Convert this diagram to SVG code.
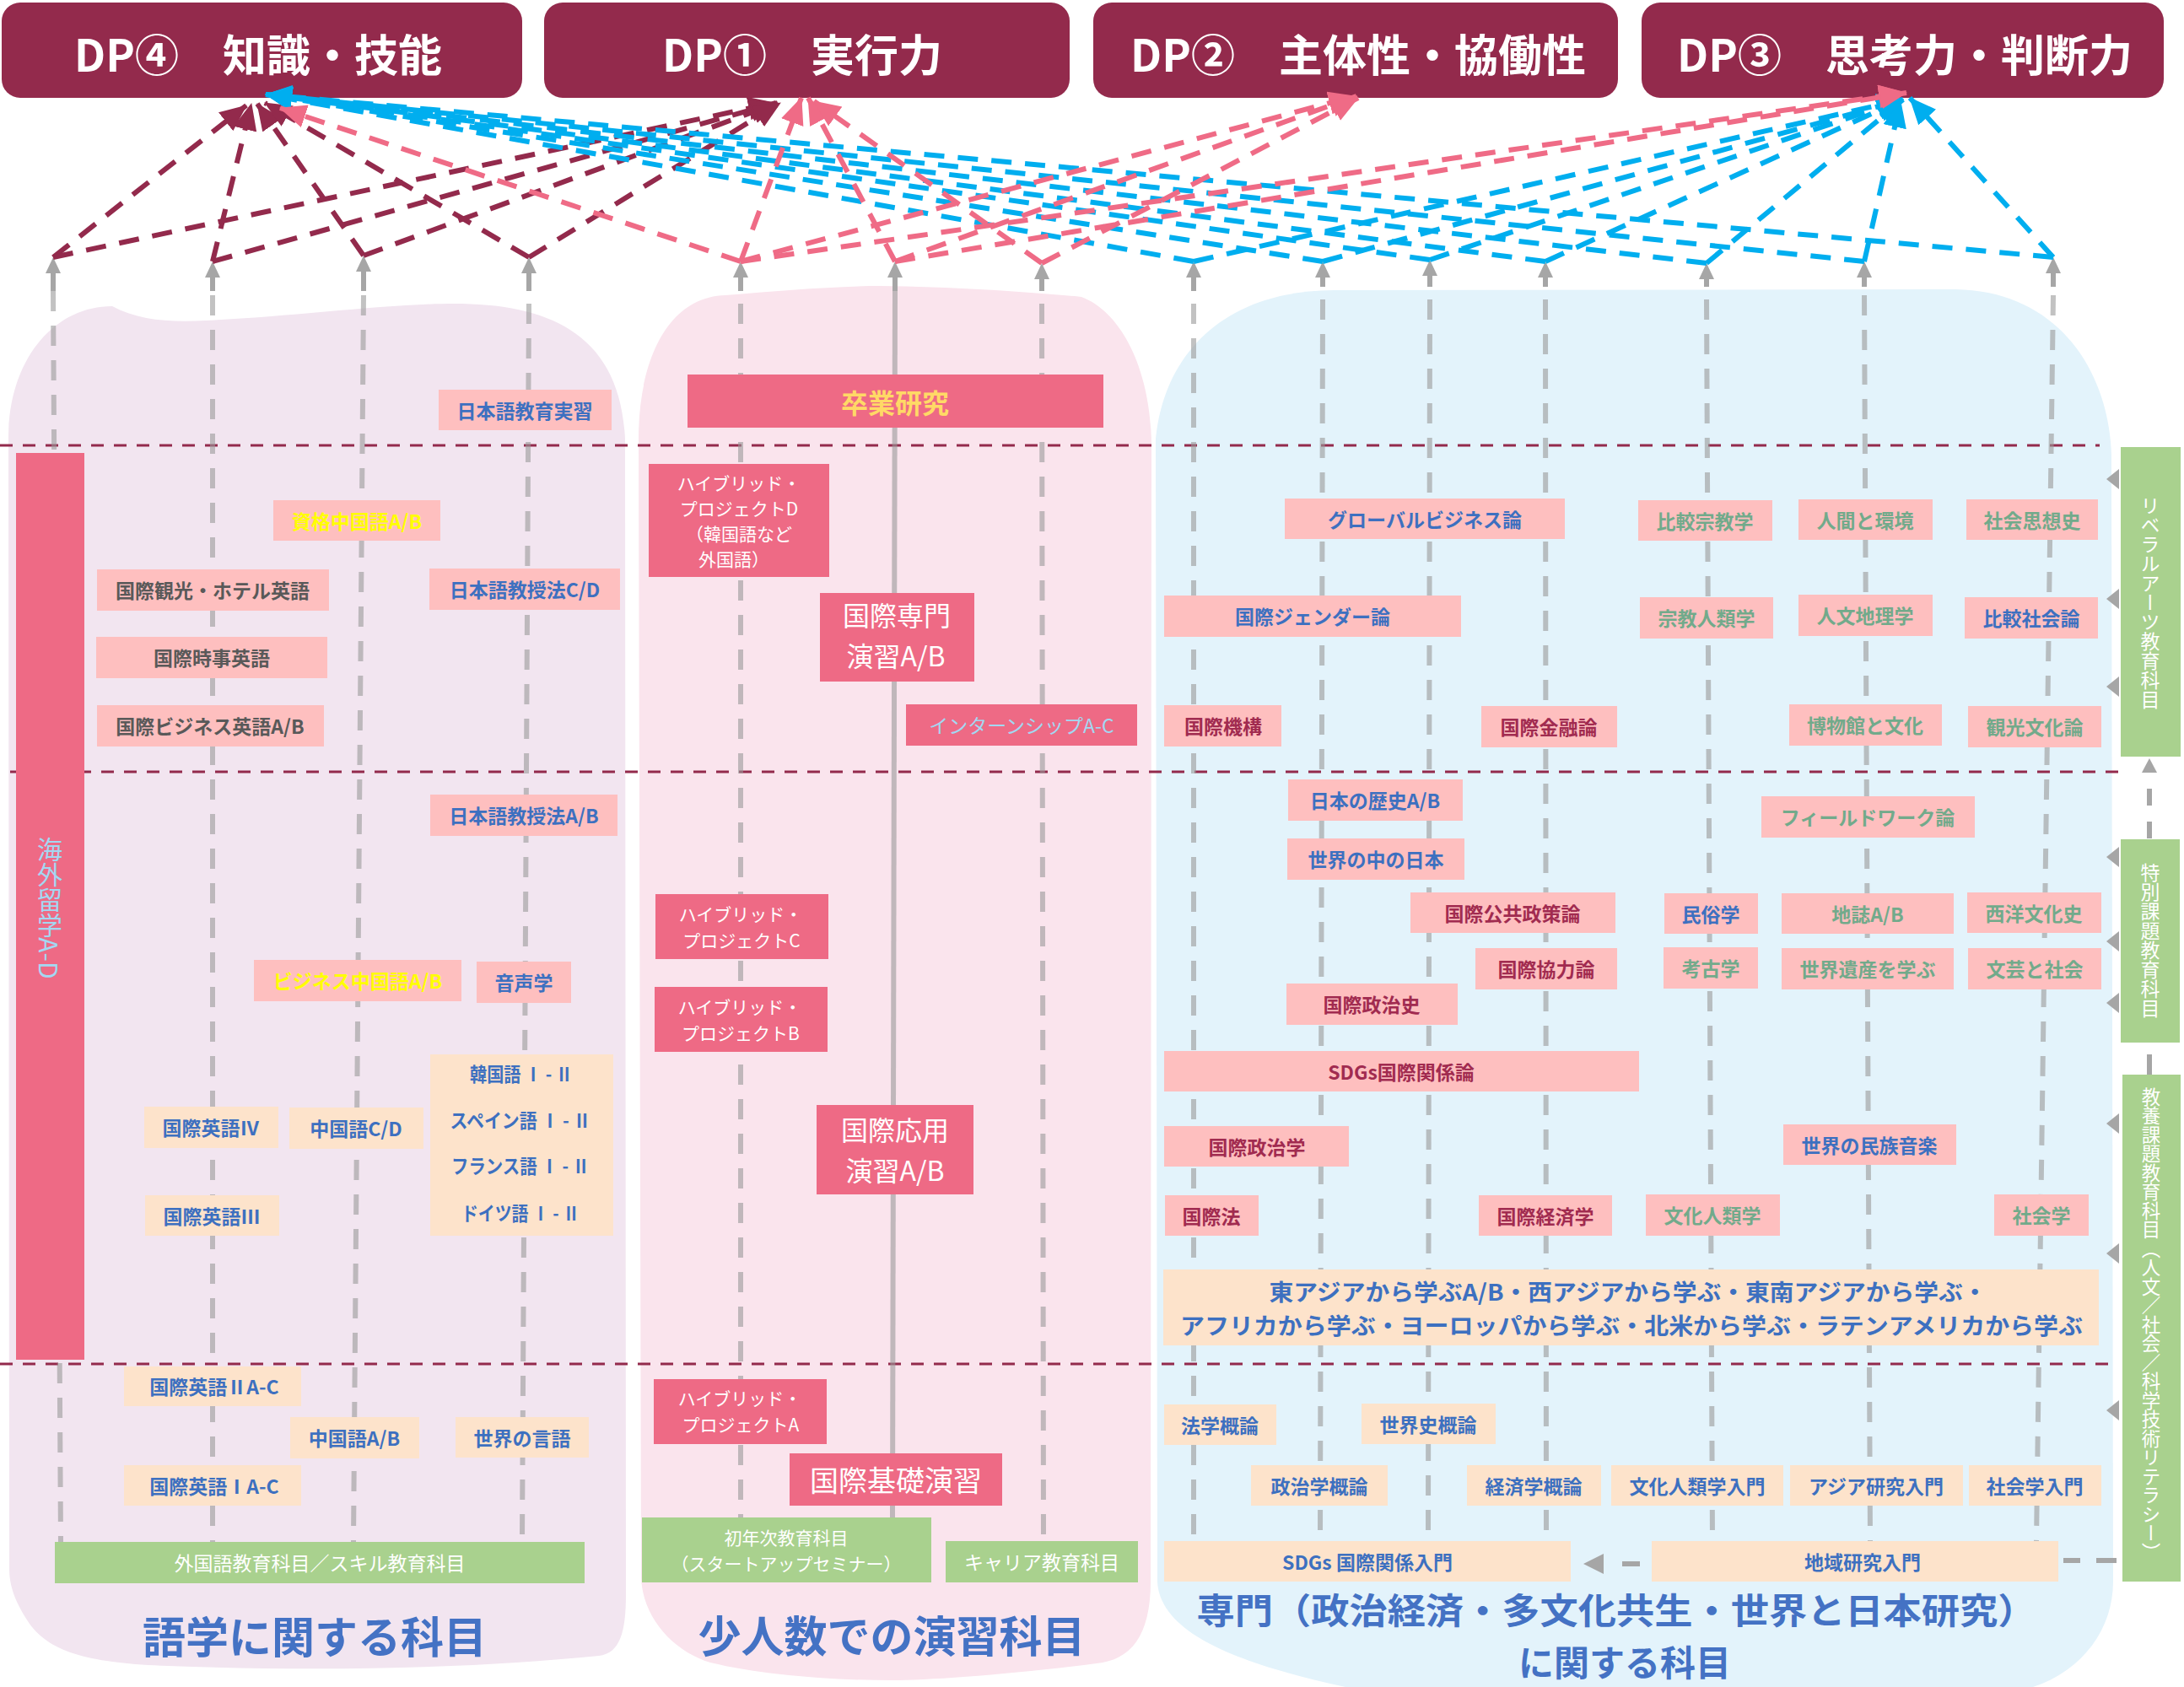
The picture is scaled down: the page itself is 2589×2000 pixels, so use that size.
<svg xmlns="http://www.w3.org/2000/svg" width="2589" height="2000" viewBox="0 0 2589 2000">
<defs>
<style>
.dp{fill:#932A4C}
.dpt{font-family:"Noto Sans CJK JP","Noto Sans",sans-serif;font-weight:700;font-size:52px;fill:#fff;text-anchor:middle;dominant-baseline:central}
.lp{fill:#FEBFBF}
.pc{fill:#FDE3CB}
.pk{fill:#EE6A85}
.gr{fill:#A9D18E}
.t{font-family:"Noto Sans CJK JP","Noto Sans",sans-serif;font-weight:700;font-size:23px;text-anchor:middle;dominant-baseline:central}
.b{fill:#3D70C0}
.g{fill:#595959}
.y{fill:#FFFF00}
.m{fill:#A12B50}
.s{fill:#72AA8B}
.w{font-family:"Noto Sans CJK JP","Noto Sans",sans-serif;font-weight:400;fill:#fff;text-anchor:middle;dominant-baseline:central;font-size:24px}
.w21{font-size:21px}
.w32{font-size:32px}
.lb{fill:#A3D8F2}
.ttl{font-family:"Noto Sans CJK JP","Noto Sans",sans-serif;font-weight:700;font-size:51px;fill:#4472C4;text-anchor:middle;dominant-baseline:central}
.vt{font-family:"Noto Sans CJK JP","Noto Sans",sans-serif;font-weight:400;fill:#fff;text-anchor:middle;writing-mode:vertical-rl;font-size:23px}
.hd{stroke:#932A4C;stroke-width:3;stroke-dasharray:15 12;fill:none}
.col{stroke:#9A9A9A;stroke-opacity:.6;stroke-width:6;stroke-dasharray:24 17;fill:none}
.colS{stroke:#9A9A9A;stroke-opacity:.6;stroke-width:6;fill:none}
.sh{stroke:#A6A6A6;stroke-width:6;fill:none}
.gt{fill:#A6A6A6}
.cm{stroke:#932A4C;stroke-width:6;stroke-dasharray:24 16;fill:none;marker-end:url(#am)}
.cp{stroke:#EF6B86;stroke-width:6;stroke-dasharray:24 16;fill:none;marker-end:url(#ap)}
.cb{stroke:#00AEEF;stroke-width:6;stroke-dasharray:24 16;fill:none;marker-end:url(#ab)}
</style>
<marker id="am" markerUnits="userSpaceOnUse" markerWidth="34" markerHeight="30" refX="31" refY="14" orient="auto"><path d="M0,0 L32,14 L0,28 Z" fill="#932A4C"/></marker>
<marker id="ap" markerUnits="userSpaceOnUse" markerWidth="34" markerHeight="30" refX="31" refY="14" orient="auto"><path d="M0,0 L32,14 L0,28 Z" fill="#EF6B86"/></marker>
<marker id="ab" markerUnits="userSpaceOnUse" markerWidth="34" markerHeight="30" refX="31" refY="14" orient="auto"><path d="M0,0 L32,14 L0,28 Z" fill="#00AEEF"/></marker>
</defs>
<rect width="2589" height="2000" fill="#fff"/>

<g id="regions">
<path d="M 11,1860 L 10,520 C 10,425 65,363 133,363 C 165,380 200,382 244,380 C 340,376 460,360 538,360 C 650,360 735,395 741,520 L 742,1890 C 742,1935 735,1960 710,1963 C 560,1978 380,1982 200,1975 C 110,1972 60,1960 35,1925 C 18,1900 11,1880 11,1860 Z" fill="#F2E5F0"/>
<path d="M 760,1870 L 757,520 C 757,430 790,352 860,350 C 920,345 990,339 1043,339 C 1130,340 1220,346 1282,352 C 1330,370 1365,440 1365,530 L 1364,1875 C 1364,1940 1340,1968 1300,1972 C 1200,1985 1100,1992 1058,1992 C 980,1992 900,1985 842,1971 C 800,1958 762,1920 760,1870 Z" fill="#FAE4ED"/>
<path d="M 1372,1875 L 1370,520 C 1380,420 1450,345 1581,344 L 2318,343 C 2440,345 2500,440 2503,540 L 2505,1875 C 2505,1930 2470,1980 2410,2000 L 1595,2000 C 1480,1975 1375,1940 1372,1875 Z" fill="#E3F3FB"/>
</g>

<g id="dividers">
<line class="hd" x1="0" y1="528" x2="2489" y2="528"/>
<line class="hd" x1="12" y1="915" x2="2520" y2="915"/>
<line class="hd" x1="0" y1="1617" x2="2505" y2="1617"/>
</g>

<g id="columns">
<polygon class="gt" points="63,305 54,324 72,324"/><line class="sh" x1="63" y1="322" x2="63" y2="345"/><line class="col" x1="63" y1="345" x2="72" y2="1828"/>
<polygon class="gt" points="252,310 243,329 261,329"/><line class="sh" x1="252" y1="327" x2="252" y2="345"/><line class="col" x1="252" y1="350" x2="252" y2="1828"/>
<polygon class="gt" points="431,303 422,322 440,322"/><line class="sh" x1="431" y1="320" x2="431" y2="345"/><line class="col" x1="431" y1="350" x2="419" y2="1828"/>
<polygon class="gt" points="627,305 618,324 636,324"/><line class="sh" x1="627" y1="322" x2="627" y2="345"/><line class="col" x1="627" y1="360" x2="619" y2="1828"/>
<polygon class="gt" points="878,310 869,329 887,329"/><line class="sh" x1="878" y1="327" x2="878" y2="345"/><line class="col" x1="878" y1="360" x2="878" y2="1800"/>
<polygon class="gt" points="1061,310 1052,329 1070,329"/><line class="sh" x1="1061" y1="327" x2="1061" y2="345"/><line class="colS" x1="1061" y1="345" x2="1058" y2="1800"/>
<polygon class="gt" points="1235,312 1226,331 1244,331"/><line class="sh" x1="1235" y1="329" x2="1235" y2="345"/><line class="col" x1="1235" y1="360" x2="1237" y2="1827"/>
<polygon class="gt" points="1415,310 1406,329 1424,329"/><line class="sh" x1="1415" y1="327" x2="1415" y2="345"/><line class="col" x1="1415" y1="360" x2="1415" y2="1827"/>
<polygon class="gt" points="1568,310 1559,329 1577,329"/><line class="sh" x1="1568" y1="327" x2="1568" y2="340"/><line class="col" x1="1568" y1="355" x2="1565" y2="1827"/>
<polygon class="gt" points="1695,308 1686,327 1704,327"/><line class="sh" x1="1695" y1="325" x2="1695" y2="340"/><line class="col" x1="1695" y1="355" x2="1693" y2="1827"/>
<polygon class="gt" points="1832,310 1823,329 1841,329"/><line class="sh" x1="1832" y1="327" x2="1832" y2="340"/><line class="col" x1="1832" y1="355" x2="1833" y2="1827"/>
<polygon class="gt" points="2023,312 2014,331 2032,331"/><line class="sh" x1="2023" y1="329" x2="2023" y2="340"/><line class="col" x1="2023" y1="355" x2="2030" y2="1827"/>
<polygon class="gt" points="2210,310 2201,329 2219,329"/><line class="sh" x1="2210" y1="327" x2="2210" y2="340"/><line class="col" x1="2210" y1="350" x2="2217" y2="1827"/>
<polygon class="gt" points="2434,305 2425,324 2443,324"/><line class="sh" x1="2434" y1="322" x2="2434" y2="340"/><line class="col" x1="2434" y1="350" x2="2414" y2="1827"/>
</g>

<g id="dp-boxes">
<g id="dp4"><rect class="dp" x="2" y="3" width="617" height="113" rx="22"/><text class="dpt" x="306" y="62">DP④　知識・技能</text></g>
<g id="dp1"><rect class="dp" x="645" y="3" width="623" height="113" rx="22"/><text class="dpt" x="951" y="62">DP①　実行力</text></g>
<g id="dp2"><rect class="dp" x="1296" y="3" width="622" height="113" rx="22"/><text class="dpt" x="1610" y="62">DP②　主体性・協働性</text></g>
<g id="dp3"><rect class="dp" x="1946" y="3" width="619" height="113" rx="22"/><text class="dpt" x="2258" y="62">DP③　思考力・判断力</text></g>
</g>

<g id="language-courses">
<g id="n-jp-practice"><rect class="lp" x="520" y="462" width="205" height="48"/><text class="t b" x="622" y="486">日本語教育実習</text></g>
<g id="n-cn-cert"><rect class="lp" x="324" y="593" width="198" height="48"/><text class="t y" x="423" y="617">資格中国語A/B</text></g>
<g id="n-hotel"><rect class="lp" x="115" y="675" width="275" height="49"/><text class="t g" x="252" y="699">国際観光・ホテル英語</text></g>
<g id="n-jp-cd"><rect class="lp" x="509" y="674" width="226" height="49"/><text class="t b" x="622" y="698">日本語教授法C/D</text></g>
<g id="n-news"><rect class="lp" x="114" y="755" width="274" height="49"/><text class="t g" x="251" y="779">国際時事英語</text></g>
<g id="n-biz-en"><rect class="lp" x="115" y="836" width="269" height="49"/><text class="t g" x="249" y="860">国際ビジネス英語A/B</text></g>
<g id="n-jp-ab"><rect class="lp" x="510" y="942" width="222" height="49"/><text class="t b" x="621" y="966">日本語教授法A/B</text></g>
<g id="n-biz-cn"><rect class="lp" x="301" y="1138" width="246" height="49"/><text class="t y" x="424" y="1162">ビジネス中国語A/B</text></g>
<g id="n-phon"><rect class="lp" x="565" y="1140" width="112" height="49"/><text class="t b" x="621" y="1164">音声学</text></g>
<g id="n-langs"><rect class="pc" x="510" y="1250" width="217" height="215"/>
<text class="t b" x="618" y="1272" textLength="122" lengthAdjust="spacingAndGlyphs">韓国語 Ⅰ - Ⅱ</text>
<text class="t b" x="617" y="1327" textLength="167" lengthAdjust="spacingAndGlyphs">スペイン語 Ⅰ - Ⅱ</text>
<text class="t b" x="617" y="1381" textLength="164" lengthAdjust="spacingAndGlyphs">フランス語 Ⅰ - Ⅱ</text>
<text class="t b" x="617" y="1437" textLength="140" lengthAdjust="spacingAndGlyphs">ドイツ語 Ⅰ - Ⅱ</text></g>
<g id="n-en4"><rect class="pc" x="171" y="1312" width="159" height="49"/><text class="t b" x="250" y="1336">国際英語Ⅳ</text></g>
<g id="n-cn-cd"><rect class="pc" x="343" y="1313" width="159" height="49"/><text class="t b" x="422" y="1337">中国語C/D</text></g>
<g id="n-en3"><rect class="pc" x="172" y="1417" width="159" height="48"/><text class="t b" x="251" y="1441">国際英語Ⅲ</text></g>
<g id="n-en2"><rect class="pc" x="147" y="1620" width="210" height="47"/><text class="t b" x="254" y="1643">国際英語ⅡA-C</text></g>
<g id="n-cn-ab"><rect class="pc" x="344" y="1680" width="153" height="49"/><text class="t b" x="420" y="1704">中国語A/B</text></g>
<g id="n-world-lang"><rect class="pc" x="540" y="1680" width="158" height="48"/><text class="t b" x="619" y="1704">世界の言語</text></g>
<g id="n-en1"><rect class="pc" x="147" y="1737" width="210" height="48"/><text class="t b" x="254" y="1761">国際英語ⅠA-C</text></g>
<g id="n-lang-cat"><rect class="gr" x="65" y="1828" width="628" height="49"/><text class="w" style="font-size:23px" x="379" y="1852">外国語教育科目／スキル教育科目</text></g>
<g id="n-abroad"><rect class="pk" x="19" y="537" width="81" height="1075"/><text class="vt" style="font-size:30px;fill:#A3D8F2" x="59" y="1076">海外留学A-D</text></g>
<text class="ttl" x="373" y="1938">語学に関する科目</text>
</g>

<g id="seminar-courses">
<g id="n-thesis"><rect class="pk" x="815" y="444" width="493" height="63"/><text class="t" style="font-size:32px;fill:#FFD966" x="1061" y="476">卒業研究</text></g>
<g id="n-hpd"><rect class="pk" x="769" y="550" width="214" height="134"/>
<text class="w w21" x="876" y="572">ハイブリッド・</text><text class="w w21" x="876" y="602">プロジェクトD</text><text class="w w21" x="876" y="632">（韓国語など</text><text class="w w21" x="870" y="662">外国語）</text></g>
<g id="n-senmon"><rect class="pk" x="972" y="703" width="183" height="105"/><text class="w w32" x="1063" y="728">国際専門</text><text class="w w32" x="1062" y="776">演習A/B</text></g>
<g id="n-intern"><rect class="pk" x="1074" y="835" width="274" height="49"/><text class="w lb" style="font-size:23px" x="1211" y="859">インターンシップA-C</text></g>
<g id="n-hpc"><rect class="pk" x="777" y="1060" width="205" height="77"/><text class="w w21" x="878" y="1083">ハイブリッド・</text><text class="w w21" x="879" y="1114">プロジェクトC</text></g>
<g id="n-hpb"><rect class="pk" x="776" y="1170" width="205" height="77"/><text class="w w21" x="877" y="1193">ハイブリッド・</text><text class="w w21" x="878" y="1224">プロジェクトB</text></g>
<g id="n-ouyou"><rect class="pk" x="968" y="1310" width="186" height="106"/><text class="w w32" x="1061" y="1338">国際応用</text><text class="w w32" x="1061" y="1386">演習A/B</text></g>
<g id="n-hpa"><rect class="pk" x="775" y="1635" width="205" height="77"/><text class="w w21" x="877" y="1657">ハイブリッド・</text><text class="w w21" x="878" y="1688">プロジェクトA</text></g>
<g id="n-kiso"><rect class="pk" x="936" y="1723" width="252" height="62"/><text class="w" style="font-size:34px" x="1062" y="1753">国際基礎演習</text></g>
<g id="n-first"><rect class="gr" x="761" y="1799" width="343" height="77"/><text class="w w21" x="932" y="1822">初年次教育科目</text><text class="w w21" x="932" y="1853" textLength="273" lengthAdjust="spacingAndGlyphs">（スタートアップセミナー）</text></g>
<g id="n-career"><rect class="gr" x="1121" y="1827" width="228" height="49"/><text class="w" style="font-size:23px" x="1235" y="1851">キャリア教育科目</text></g>
<text class="ttl" x="1057" y="1937">少人数での演習科目</text>
</g>

<g id="specialty-courses">
<g><rect class="lp" x="1523" y="591" width="332" height="48"/><text class="t b" x="1689" y="615">グローバルビジネス論</text></g>
<g><rect class="lp" x="1942" y="593" width="159" height="48"/><text class="t s" x="2021" y="617">比較宗教学</text></g>
<g><rect class="lp" x="2132" y="592" width="159" height="48"/><text class="t s" x="2211" y="616">人間と環境</text></g>
<g><rect class="lp" x="2331" y="592" width="156" height="48"/><text class="t s" x="2409" y="616">社会思想史</text></g>
<g><rect class="lp" x="1380" y="706" width="352" height="49"/><text class="t b" x="1556" y="730">国際ジェンダー論</text></g>
<g><rect class="lp" x="1944" y="708" width="158" height="49"/><text class="t s" x="2023" y="732">宗教人類学</text></g>
<g><rect class="lp" x="2132" y="705" width="159" height="49"/><text class="t s" x="2211" y="729">人文地理学</text></g>
<g><rect class="lp" x="2329" y="708" width="158" height="49"/><text class="t b" x="2408" y="732">比較社会論</text></g>
<g><rect class="lp" x="1380" y="836" width="139" height="49"/><text class="t m" x="1450" y="860">国際機構</text></g>
<g><rect class="lp" x="1756" y="837" width="161" height="49"/><text class="t m" x="1836" y="861">国際金融論</text></g>
<g><rect class="lp" x="2121" y="835" width="181" height="49"/><text class="t s" x="2211" y="859">博物館と文化</text></g>
<g><rect class="lp" x="2333" y="837" width="158" height="49"/><text class="t s" x="2412" y="861">観光文化論</text></g>
<g><rect class="lp" x="1527" y="924" width="207" height="49"/><text class="t b" x="1630" y="948">日本の歴史A/B</text></g>
<g><rect class="lp" x="2088" y="944" width="253" height="49"/><text class="t s" x="2214" y="968">フィールドワーク論</text></g>
<g><rect class="lp" x="1526" y="994" width="210" height="49"/><text class="t b" x="1631" y="1018">世界の中の日本</text></g>
<g><rect class="lp" x="1672" y="1058" width="243" height="48"/><text class="t m" x="1793" y="1082">国際公共政策論</text></g>
<g><rect class="lp" x="1973" y="1059" width="111" height="48"/><text class="t b" x="2028" y="1083">民俗学</text></g>
<g><rect class="lp" x="2112" y="1059" width="204" height="48"/><text class="t s" x="2214" y="1083">地誌A/B</text></g>
<g><rect class="lp" x="2332" y="1058" width="159" height="48"/><text class="t s" x="2411" y="1082">西洋文化史</text></g>
<g><rect class="lp" x="1749" y="1124" width="168" height="49"/><text class="t m" x="1833" y="1148">国際協力論</text></g>
<g><rect class="lp" x="1972" y="1123" width="112" height="49"/><text class="t s" x="2028" y="1147">考古学</text></g>
<g><rect class="lp" x="2112" y="1124" width="204" height="49"/><text class="t s" x="2214" y="1148">世界遺産を学ぶ</text></g>
<g><rect class="lp" x="2333" y="1124" width="158" height="49"/><text class="t s" x="2412" y="1148">文芸と社会</text></g>
<g><rect class="lp" x="1525" y="1166" width="203" height="49"/><text class="t m" x="1626" y="1190">国際政治史</text></g>
<g><rect class="lp" x="1380" y="1246" width="563" height="48"/><text class="t m" x="1661" y="1270">SDGs国際関係論</text></g>
<g><rect class="lp" x="1380" y="1335" width="219" height="48"/><text class="t m" x="1490" y="1359">国際政治学</text></g>
<g><rect class="lp" x="2114" y="1333" width="205" height="48"/><text class="t b" x="2216" y="1357">世界の民族音楽</text></g>
<g><rect class="lp" x="1381" y="1417" width="111" height="48"/><text class="t m" x="1436" y="1441">国際法</text></g>
<g><rect class="lp" x="1753" y="1417" width="158" height="48"/><text class="t m" x="1832" y="1441">国際経済学</text></g>
<g><rect class="lp" x="1951" y="1416" width="159" height="49"/><text class="t s" x="2030" y="1440">文化人類学</text></g>
<g><rect class="lp" x="2364" y="1416" width="112" height="49"/><text class="t s" x="2420" y="1440">社会学</text></g>
<g id="n-areas"><rect class="pc" x="1379" y="1505" width="1109" height="90"/>
<text class="t b" style="font-size:27px" x="1930" y="1530" textLength="851" lengthAdjust="spacingAndGlyphs">東アジアから学ぶA/B・西アジアから学ぶ・東南アジアから学ぶ・</text>
<text class="t b" style="font-size:27px" x="1934" y="1570" textLength="1070" lengthAdjust="spacingAndGlyphs">アフリカから学ぶ・ヨーロッパから学ぶ・北米から学ぶ・ラテンアメリカから学ぶ</text></g>
<g><rect class="pc" x="1380" y="1665" width="133" height="48"/><text class="t b" x="1446" y="1689">法学概論</text></g>
<g><rect class="pc" x="1614" y="1664" width="159" height="48"/><text class="t b" x="1693" y="1688">世界史概論</text></g>
<g><rect class="pc" x="1483" y="1737" width="162" height="48"/><text class="t b" x="1564" y="1761">政治学概論</text></g>
<g><rect class="pc" x="1739" y="1737" width="159" height="48"/><text class="t b" x="1818" y="1761">経済学概論</text></g>
<g><rect class="pc" x="1910" y="1737" width="204" height="48"/><text class="t b" x="2012" y="1761">文化人類学入門</text></g>
<g><rect class="pc" x="2122" y="1737" width="205" height="48"/><text class="t b" x="2224" y="1761">アジア研究入門</text></g>
<g><rect class="pc" x="2334" y="1737" width="157" height="48"/><text class="t b" x="2412" y="1761">社会学入門</text></g>
<g><rect class="pc" x="1380" y="1827" width="482" height="48"/><text class="t b" x="1621" y="1851">SDGs 国際関係入門</text></g>
<g><rect class="pc" x="1958" y="1827" width="482" height="48"/><text class="t b" x="2208" y="1851">地域研究入門</text></g>
<text class="ttl" style="font-size:42px" x="1916" y="1906" textLength="995" lengthAdjust="spacingAndGlyphs">専門（政治経済・多文化共生・世界と日本研究）</text>
<text class="ttl" style="font-size:42px" x="1926" y="1968">に関する科目</text>
</g>

<g id="category-bars">
<g id="n-liberal"><rect class="gr" x="2514" y="530" width="71" height="367"/><text class="vt" x="2549" y="714">リベラルアーツ教育科目</text></g>
<g id="n-special"><rect class="gr" x="2514" y="995" width="70" height="241"/><text class="vt" x="2549" y="1115">特別課題教育科目</text></g>
<g id="n-kyoyo"><rect class="gr" x="2516" y="1274" width="69" height="601"/><text class="vt" style="font-size:22.5px" x="2550" y="1570">教養課題教育科目（人文／社会／科学技術リテラシー）</text></g>
</g>

<g id="side-connectors">
<polygon class="gt" points="2497,568 2512,556 2512,580"/>
<polygon class="gt" points="2497,710 2512,698 2512,722"/>
<polygon class="gt" points="2497,814 2512,802 2512,826"/>
<polygon class="gt" points="2497,1016 2512,1004 2512,1028"/>
<polygon class="gt" points="2497,1116 2512,1104 2512,1128"/>
<polygon class="gt" points="2497,1189 2512,1177 2512,1201"/>
<polygon class="gt" points="2497,1332 2512,1320 2512,1344"/>
<polygon class="gt" points="2497,1486 2512,1474 2512,1498"/>
<polygon class="gt" points="2497,1672 2512,1660 2512,1684"/>
<line class="sh" x1="2548" y1="994" x2="2548" y2="914" stroke-dasharray="20 19"/>
<polygon class="gt" points="2548,899 2539,916 2557,916"/>
<line class="sh" x1="2548" y1="1250" x2="2548" y2="1274"/>
<line class="sh" x1="2509" y1="1850" x2="2446" y2="1850" stroke-dasharray="24 19"/>
<line class="sh" x1="1944" y1="1854" x2="1923" y2="1854"/>
<polygon class="gt" points="1877,1854 1901,1842 1901,1866"/>
</g>

<g id="dp-connectors">
<line class="cm" x1="63" y1="305" x2="292" y2="125"/>
<line class="cm" x1="252" y1="310" x2="298" y2="123"/>
<line class="cm" x1="431" y1="303" x2="305" y2="123"/>
<line class="cm" x1="627" y1="305" x2="314" y2="122"/>
<line class="cm" x1="63" y1="305" x2="918" y2="122"/>
<line class="cm" x1="252" y1="310" x2="920" y2="122"/>
<line class="cm" x1="431" y1="303" x2="922" y2="122"/>
<line class="cm" x1="627" y1="305" x2="925" y2="122"/>

<line class="cb" x1="1415" y1="310" x2="315" y2="112"/>
<line class="cb" x1="1568" y1="310" x2="315" y2="112"/>
<line class="cb" x1="1695" y1="308" x2="315" y2="112"/>
<line class="cb" x1="1832" y1="310" x2="315" y2="112"/>
<line class="cb" x1="2023" y1="312" x2="315" y2="112"/>
<line class="cb" x1="2210" y1="310" x2="315" y2="112"/>
<line class="cb" x1="2434" y1="305" x2="315" y2="112"/>
<line class="cb" x1="1415" y1="310" x2="2256" y2="118"/>
<line class="cb" x1="1568" y1="310" x2="2256" y2="118"/>
<line class="cb" x1="1695" y1="308" x2="2256" y2="118"/>
<line class="cb" x1="1832" y1="310" x2="2256" y2="118"/>
<line class="cb" x1="2023" y1="312" x2="2256" y2="118"/>
<line class="cb" x1="2210" y1="310" x2="2253" y2="120"/>
<line class="cb" x1="2434" y1="305" x2="2264" y2="116"/>

<line class="cp" x1="878" y1="310" x2="332" y2="128"/>
<line class="cp" x1="878" y1="310" x2="950" y2="116"/>
<line class="cp" x1="1061" y1="310" x2="958" y2="116"/>
<line class="cp" x1="1235" y1="312" x2="965" y2="120"/>
<line class="cp" x1="878" y1="310" x2="1606" y2="114"/>
<line class="cp" x1="1061" y1="310" x2="1608" y2="114"/>
<line class="cp" x1="1235" y1="312" x2="1610" y2="116"/>
<line class="cp" x1="878" y1="310" x2="2258" y2="110"/>
<line class="cp" x1="1061" y1="310" x2="2260" y2="110"/>
</g>
</svg>
